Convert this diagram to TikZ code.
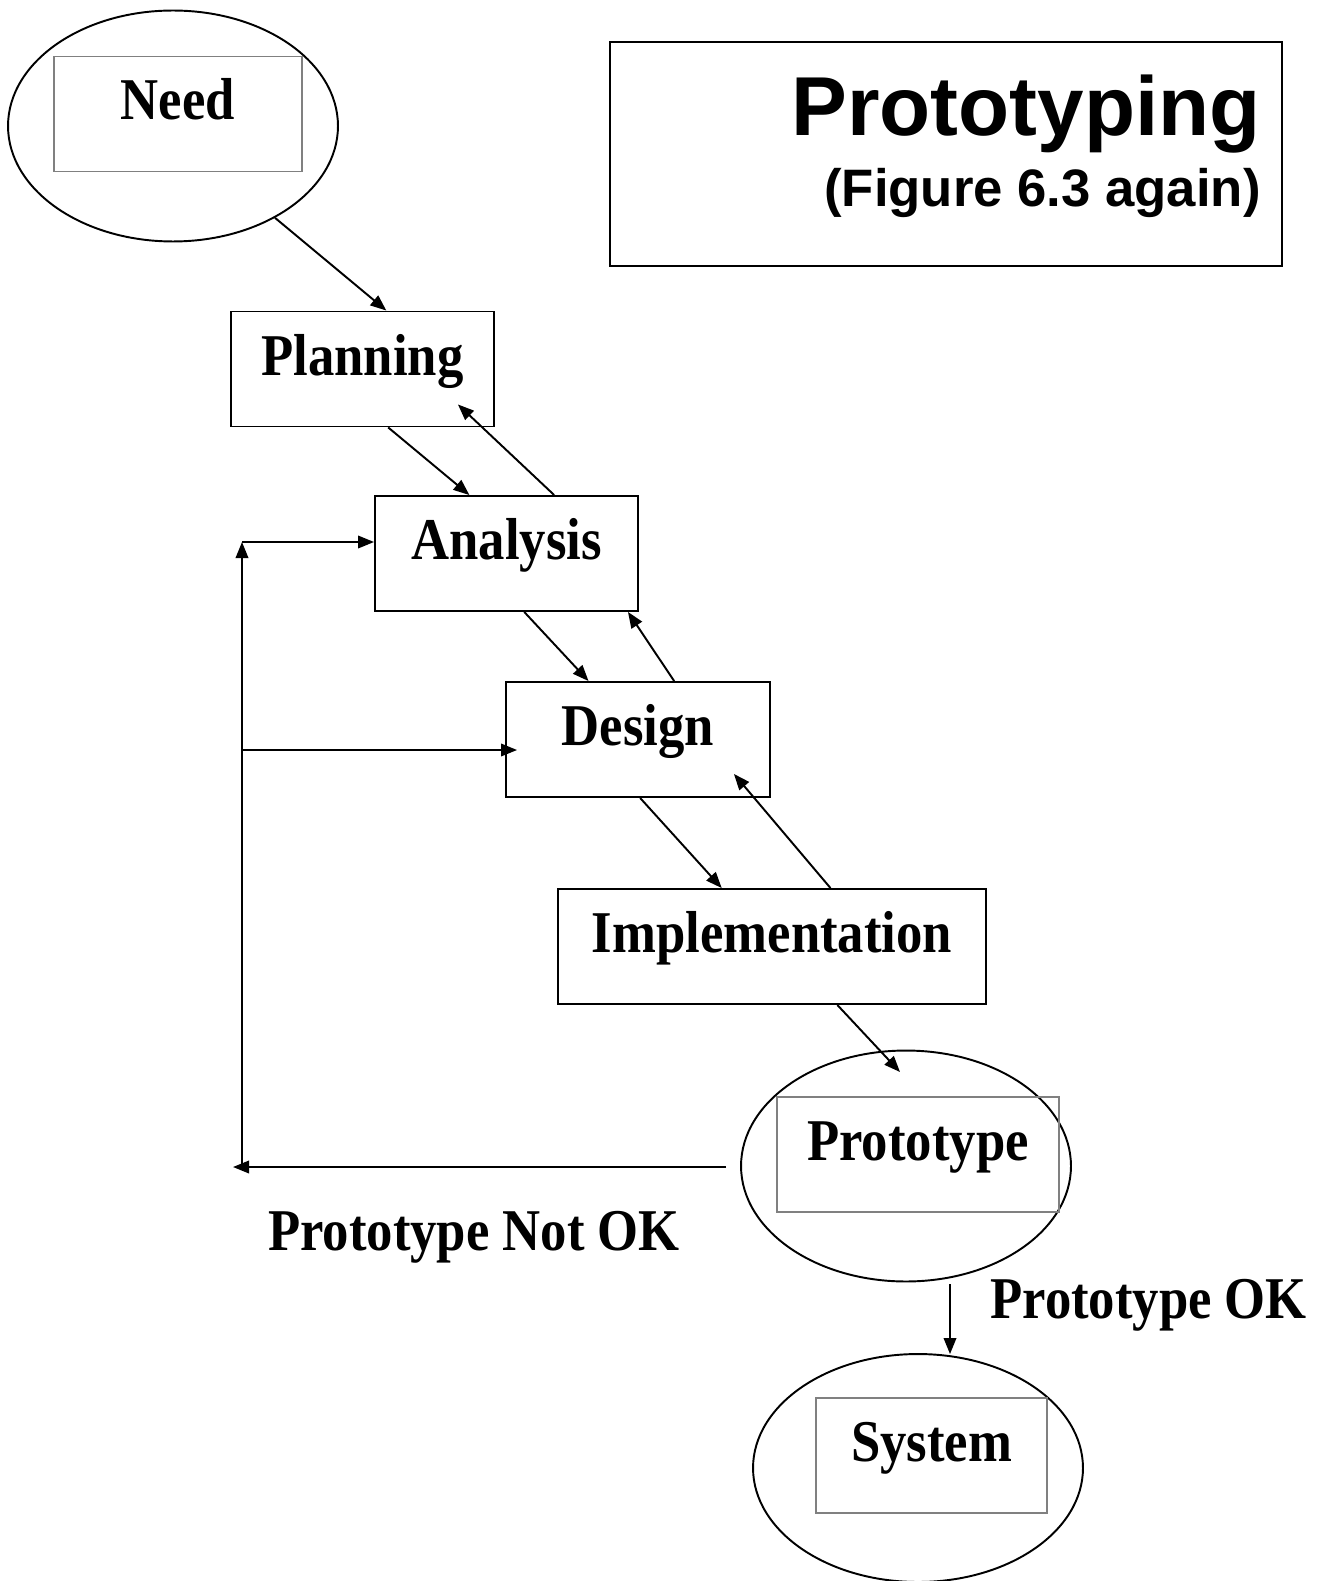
\documentclass[tikz,border=0pt]{standalone}
\usepackage{fontspec}
\setmainfont{Liberation Serif}[FakeStretch=0.89]
\newfontfamily\titlefont{Liberation Sans}
\usetikzlibrary{shapes.geometric,arrows.meta,positioning,calc}
\newcommand{\boxfont}{\fontsize{33.7}{40}\selectfont\bfseries}

\begin{document}
\begin{tikzpicture}[
    x=0.02cm, y=-0.02cm,
    stepbox/.style={draw, line width=1.1pt, rectangle, inner xsep=0pt, inner ysep=0pt, text height=1.27cm, text depth=1.03cm, font=\boxfont},
    innerbox/.style={stepbox, draw=gray, line width=0.8pt},
    phase/.style={draw, ellipse, line width=1.1pt, inner sep=0pt, minimum width=6.6cm, minimum height=4.62cm},
    lbl/.style={inner sep=0pt, font=\boxfont},
    flow/.style={-{Triangle[length=0.32cm, width=0.25cm]}, line width=1.1pt}
]
    \useasboundingbox (0,0) rectangle (1325,1581);

    % Title
    \node[draw, line width=0.8pt, minimum width=13.44cm, minimum height=4.48cm] (titlebox) at (946,154) {};
    \node[inner sep=0pt, anchor=base east, font=\titlefont\fontsize{47.6}{56}\selectfont\bfseries] (title) at (1261,136) {Prototyping};
    \node[inner sep=0pt, anchor=base east, font=\titlefont\fontsize{30}{36}\selectfont\bfseries] (subtitle) at (1261,207) {(Figure 6.3 again)};

    % Need
    \node[phase] (need) at (173,126) {};
    \node[innerbox, minimum width=4.96cm] (needbox) at (178,114) {Need};

    % Phases
    \node[stepbox, minimum width=5.26cm] (plan) at (362.5,369) {Planning};
    \node[stepbox, minimum width=5.26cm] (ana) at (506.5,553.5) {Analysis};
    \node[stepbox, minimum width=5.28cm] (dsg) at (638,739.5) {Design};
    \node[stepbox, minimum width=8.56cm] (impl) at (772,946.5) {Implementation};

    % Prototype and System
    \node[phase] (proto) at (906,1166) {};
    \node[innerbox, minimum width=5.64cm] (protobox) at (918,1154.5) {Prototype};
    \node[phase, minimum height=4.56cm] (sys) at (918,1468) {};
    \node[innerbox, minimum width=4.62cm] (sysbox) at (931.5,1455.5) {System};

    % Forward and back arrows
    \draw[flow] (need.-42) -- ($(plan.north west)!0.59!(plan.north east)$);
    \draw[flow] ($(plan.south west)!0.597!(plan.south east)$) -- ($(ana.north west)!0.36!(ana.north east)$);
    \draw[flow] ($(ana.north west)!0.68!(ana.north east)$) -- ($(plan.south east)+(-37,-23)$);
    \draw[flow] ($(ana.south west)!0.567!(ana.south east)$) -- ($(dsg.north west)!0.314!(dsg.north east)$);
    \draw[flow] ($(dsg.north west)!0.636!(dsg.north east)$) -- ($(ana.south east)+(-11,0)$);
    \draw[flow] ($(dsg.south west)!0.508!(dsg.south east)$) -- ($(impl.north west)!0.383!(impl.north east)$);
    \draw[flow] ($(impl.north west)!0.636!(impl.north east)$) -- ($(dsg.south east)+(-37,-24)$);
    \draw[flow] ($(impl.south west)!0.652!(impl.south east)$) -- ($(proto)+(-6,-94)$);

    % Feedback loop
    \coordinate (notok) at (233,1167);
    \coordinate (loopbot) at (242,1167);
    \coordinate (loopmid) at (242,750);
    \coordinate (looptop) at (242,542);
    \draw[flow] ($(proto.west)+(-14,1)$) -- (notok);
    \draw[flow] (loopbot) -- (looptop);
    \draw[flow] (looptop) -- (looptop -| ana.west);
    \draw[flow] (loopmid) -- ($(loopmid -| dsg.west)+(12,0)$);
    \node[lbl, anchor=base] (notoklbl) at (474,1250) {Prototype Not OK};

    % Accepted
    \draw[flow] ($(proto.south)+(44,2)$) -- ($(sys.north)+(32,1)$);
    \node[lbl, anchor=base west] (oklbl) at (990,1318) {Prototype OK};
\end{tikzpicture}
\end{document}
